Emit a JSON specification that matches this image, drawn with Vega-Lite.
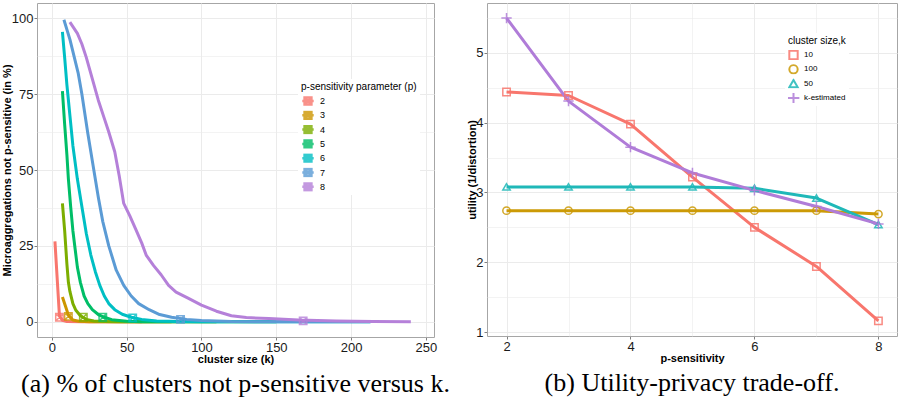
{
  "$schema": "https://vega.github.io/schema/vega-lite/v6.json",
  "padding": {"left": 0, "top": 2, "right": 1, "bottom": 0},
  "background": "white",
  "resolve": {"scale": {"color": "independent", "shape": "independent"}, "legend": {"color": "independent", "shape": "independent"}},
  "config": {
    "font": "Liberation Sans",
    "view": {"stroke": "#A6A6A6", "strokeWidth": 1},
    "concat": {"spacing": 15},
    "axis": {
      "domain": false,
      "gridColor": "#EBEBEB",
      "tickColor": "#7F7F7F",
      "tickSize": 3,
      "labelFontSize": 13,
      "labelColor": "#1A1A1A",
      "labelPadding": 1,
      "titleFontSize": 11,
      "titleFontWeight": "bold",
      "titleColor": "#000000",
      "titlePadding": -1
    },
    "legend": {
      "orient": "none",
      "fillColor": "white",
      "padding": 3,
      "titleFontSize": 10,
      "titleFontWeight": "normal",
      "titleColor": "#000000",
      "labelFontSize": 9,
      "labelColor": "#000000",
      "clipHeight": 10,
      "rowPadding": 4.3,
      "titlePadding": 4,
      "labelOffset": 5
    },
    "title": {"font": "Liberation Serif", "fontSize": 26, "fontWeight": "normal", "color": "#000000", "offset": 7}
  },
  "datasets": {
    "curves": [
      {"p": "2", "k": 2, "v": 26.5}, {"p": "2", "k": 5, "v": 2}, {"p": "2", "k": 7, "v": 0.5}, {"p": "2", "k": 10, "v": 0.1}, {"p": "2", "k": 20, "v": 0}, {"p": "2", "k": 60, "v": 0},
      {"p": "3", "k": 7, "v": 8.2}, {"p": "3", "k": 9, "v": 5.2}, {"p": "3", "k": 11, "v": 2.2}, {"p": "3", "k": 14, "v": 0.6}, {"p": "3", "k": 18, "v": 0.2}, {"p": "3", "k": 25, "v": 0}, {"p": "3", "k": 80, "v": 0},
      {"p": "4", "k": 7, "v": 39}, {"p": "4", "k": 8.5, "v": 30}, {"p": "4", "k": 10, "v": 19}, {"p": "4", "k": 11, "v": 13}, {"p": "4", "k": 12, "v": 10}, {"p": "4", "k": 14, "v": 6}, {"p": "4", "k": 16, "v": 3.8}, {"p": "4", "k": 19, "v": 2}, {"p": "4", "k": 23, "v": 0.8}, {"p": "4", "k": 28, "v": 0.3}, {"p": "4", "k": 35, "v": 0.1}, {"p": "4", "k": 45, "v": 0}, {"p": "4", "k": 110, "v": 0},
      {"p": "5", "k": 7, "v": 76}, {"p": "5", "k": 8.5, "v": 65}, {"p": "5", "k": 10, "v": 55}, {"p": "5", "k": 11, "v": 47}, {"p": "5", "k": 12.5, "v": 38}, {"p": "5", "k": 14, "v": 30}, {"p": "5", "k": 15.5, "v": 24}, {"p": "5", "k": 17, "v": 18}, {"p": "5", "k": 19, "v": 13}, {"p": "5", "k": 21.5, "v": 8.5}, {"p": "5", "k": 24, "v": 6}, {"p": "5", "k": 27, "v": 4}, {"p": "5", "k": 31, "v": 2.4}, {"p": "5", "k": 35, "v": 1.5}, {"p": "5", "k": 40, "v": 0.7}, {"p": "5", "k": 50, "v": 0.2}, {"p": "5", "k": 60, "v": 0.05}, {"p": "5", "k": 70, "v": 0}, {"p": "5", "k": 150, "v": 0},
      {"p": "6", "k": 7, "v": 95.5}, {"p": "6", "k": 8.5, "v": 87}, {"p": "6", "k": 10, "v": 78}, {"p": "6", "k": 12, "v": 68}, {"p": "6", "k": 14, "v": 58}, {"p": "6", "k": 17, "v": 47}, {"p": "6", "k": 20, "v": 38}, {"p": "6", "k": 23, "v": 29}, {"p": "6", "k": 26, "v": 22}, {"p": "6", "k": 29, "v": 16.5}, {"p": "6", "k": 32, "v": 12}, {"p": "6", "k": 35, "v": 8.5}, {"p": "6", "k": 38, "v": 6}, {"p": "6", "k": 42, "v": 4}, {"p": "6", "k": 47, "v": 2.5}, {"p": "6", "k": 53, "v": 1.5}, {"p": "6", "k": 60, "v": 0.8}, {"p": "6", "k": 70, "v": 0.3}, {"p": "6", "k": 85, "v": 0.1}, {"p": "6", "k": 100, "v": 0}, {"p": "6", "k": 213, "v": 0},
      {"p": "7", "k": 8, "v": 99.5}, {"p": "7", "k": 12, "v": 93}, {"p": "7", "k": 15, "v": 87}, {"p": "7", "k": 17.5, "v": 82}, {"p": "7", "k": 20, "v": 75}, {"p": "7", "k": 24, "v": 62}, {"p": "7", "k": 28, "v": 50}, {"p": "7", "k": 31, "v": 41}, {"p": "7", "k": 34, "v": 33}, {"p": "7", "k": 38, "v": 25}, {"p": "7", "k": 43, "v": 17}, {"p": "7", "k": 48, "v": 12}, {"p": "7", "k": 53, "v": 8.5}, {"p": "7", "k": 58, "v": 6}, {"p": "7", "k": 65, "v": 4}, {"p": "7", "k": 72, "v": 2.4}, {"p": "7", "k": 80, "v": 1.5}, {"p": "7", "k": 90, "v": 0.8}, {"p": "7", "k": 100, "v": 0.4}, {"p": "7", "k": 120, "v": 0.1}, {"p": "7", "k": 150, "v": 0}, {"p": "7", "k": 213, "v": 0},
      {"p": "8", "k": 12, "v": 98.7}, {"p": "8", "k": 17, "v": 95}, {"p": "8", "k": 20, "v": 91.5}, {"p": "8", "k": 23, "v": 87}, {"p": "8", "k": 27, "v": 80}, {"p": "8", "k": 31, "v": 73}, {"p": "8", "k": 35, "v": 67}, {"p": "8", "k": 38, "v": 62.5}, {"p": "8", "k": 42, "v": 56}, {"p": "8", "k": 45, "v": 48}, {"p": "8", "k": 48, "v": 39}, {"p": "8", "k": 52, "v": 35}, {"p": "8", "k": 56, "v": 30.5}, {"p": "8", "k": 60, "v": 26}, {"p": "8", "k": 63, "v": 22}, {"p": "8", "k": 68, "v": 18.5}, {"p": "8", "k": 73, "v": 15.5}, {"p": "8", "k": 78, "v": 12}, {"p": "8", "k": 83, "v": 9.8}, {"p": "8", "k": 91, "v": 7.8}, {"p": "8", "k": 100, "v": 5.5}, {"p": "8", "k": 110, "v": 3.5}, {"p": "8", "k": 120, "v": 2}, {"p": "8", "k": 130, "v": 1.4}, {"p": "8", "k": 145, "v": 1.1}, {"p": "8", "k": 165, "v": 0.6}, {"p": "8", "k": 190, "v": 0.3}, {"p": "8", "k": 215, "v": 0.1}, {"p": "8", "k": 240, "v": 0}
    ],
    "markers": [
      {"p": "2", "k": 5, "v": 1.5},
      {"p": "3", "k": 11, "v": 1.8},
      {"p": "4", "k": 21, "v": 1.5},
      {"p": "5", "k": 34, "v": 1.5},
      {"p": "6", "k": 54, "v": 1.3},
      {"p": "7", "k": 86, "v": 0.8},
      {"p": "8", "k": 168, "v": 0.3}
    ],
    "utility": [
      {"k": "10", "p": 2, "u": 4.44}, {"k": "10", "p": 3, "u": 4.39}, {"k": "10", "p": 4, "u": 3.98}, {"k": "10", "p": 5, "u": 3.22}, {"k": "10", "p": 6, "u": 2.5}, {"k": "10", "p": 7, "u": 1.94}, {"k": "10", "p": 8, "u": 1.16},
      {"k": "100", "p": 2, "u": 2.74}, {"k": "100", "p": 3, "u": 2.74}, {"k": "100", "p": 4, "u": 2.74}, {"k": "100", "p": 5, "u": 2.74}, {"k": "100", "p": 6, "u": 2.74}, {"k": "100", "p": 7, "u": 2.74}, {"k": "100", "p": 8, "u": 2.69},
      {"k": "50", "p": 2, "u": 3.08}, {"k": "50", "p": 3, "u": 3.08}, {"k": "50", "p": 4, "u": 3.08}, {"k": "50", "p": 5, "u": 3.08}, {"k": "50", "p": 6, "u": 3.06}, {"k": "50", "p": 7, "u": 2.92}, {"k": "50", "p": 8, "u": 2.54},
      {"k": "k-estimated", "p": 2, "u": 5.5}, {"k": "k-estimated", "p": 3, "u": 4.31}, {"k": "k-estimated", "p": 4, "u": 3.65}, {"k": "k-estimated", "p": 5, "u": 3.28}, {"k": "k-estimated", "p": 6, "u": 3.03}, {"k": "k-estimated", "p": 7, "u": 2.8}, {"k": "k-estimated", "p": 8, "u": 2.55}
    ]
  },
  "hconcat": [
    {
      "width": 397,
      "height": 334,
      "title": {"text": "(a) % of clusters not p-sensitive versus k.", "orient": "bottom", "anchor": "middle"},
      "layer": [
        {
          "data": {"name": "curves"},
          "mark": {"type": "line", "strokeWidth": 3, "strokeJoin": "round"},
          "encoding": {
            "x": {
              "field": "k", "type": "quantitative",
              "scale": {"domain": [-10, 255.5], "nice": false, "zero": false},
              "axis": {
                "title": "cluster size (k)",
                "values": [0, 25, 50, 75, 100, 125, 150, 175, 200, 225, 250],
                "labelExpr": "datum.value % 50 === 0 ? datum.label : ''",
                "gridWidth": {"condition": {"test": "datum.value % 50 !== 0", "value": 0.6}, "value": 1},
                "tickOpacity": {"condition": {"test": "datum.value % 50 !== 0", "value": 0}, "value": 1}
              }
            },
            "y": {
              "field": "v", "type": "quantitative",
              "scale": {"domain": [-5, 105], "nice": false, "zero": false},
              "axis": {
                "title": "Microaggregations not p-sensitive (in %)",
                "values": [0, 12.5, 25, 37.5, 50, 62.5, 75, 87.5, 100],
                "labelExpr": "datum.value % 25 === 0 ? datum.label : ''",
                "gridWidth": {"condition": {"test": "datum.value % 25 !== 0", "value": 0.6}, "value": 1},
                "tickOpacity": {"condition": {"test": "datum.value % 25 !== 0", "value": 0}, "value": 1}
              }
            },
            "color": {
              "field": "p", "type": "nominal",
              "scale": {"domain": ["2", "3", "4", "5", "6", "7", "8"], "range": ["#F8766D", "#CD9600", "#7CAE00", "#00BE67", "#00BFC4", "#5B9BD5", "#B580D9"]},
              "legend": {
                "title": "p-sensitivity parameter (p)",
                "legendX": 261, "legendY": 76,
                "symbolType": "M-1,0H1M-0.6,-0.6H0.6V0.6H-0.6ZM-0.6,-0.6L0.6,0.6M0.6,-0.6L-0.6,0.6",
                "symbolSize": 130, "symbolStrokeWidth": 2.5
              }
            }
          }
        },
        {
          "data": {"name": "markers"},
          "mark": {"type": "point", "shape": "M-1,-1H1V1H-1ZM-1,-1L1,1M1,-1L-1,1", "filled": false, "size": 55, "strokeWidth": 1.5, "opacity": 0.8},
          "encoding": {
            "x": {"field": "k", "type": "quantitative"},
            "y": {"field": "v", "type": "quantitative"},
            "color": {"field": "p", "type": "nominal"}
          }
        }
      ]
    },
    {
      "width": 410,
      "height": 333,
      "title": {"text": "(b) Utility-privacy trade-off.", "orient": "bottom", "anchor": "middle"},
      "data": {"name": "utility"},
      "encoding": {
        "x": {
          "field": "p", "type": "quantitative",
          "scale": {"domain": [1.685, 8.3], "nice": false, "zero": false},
          "axis": {
            "title": "p-sensitivity",
            "values": [2, 3, 4, 5, 6, 7, 8],
            "labelExpr": "datum.value % 2 === 0 ? datum.label : ''",
            "gridWidth": {"condition": {"test": "datum.value % 2 !== 0", "value": 0.6}, "value": 1},
            "tickOpacity": {"condition": {"test": "datum.value % 2 !== 0", "value": 0}, "value": 1}
          }
        },
        "y": {
          "field": "u", "type": "quantitative",
          "scale": {"domain": [0.943, 5.716], "nice": false, "zero": false},
          "axis": {
            "title": "utility (1/distortion)",
            "titlePadding": -2,
            "format": ".0f",
            "values": [1, 1.5, 2, 2.5, 3, 3.5, 4, 4.5, 5, 5.5],
            "labelExpr": "datum.value % 1 === 0 ? datum.label : ''",
            "gridWidth": {"condition": {"test": "datum.value % 1 !== 0", "value": 0.6}, "value": 1},
            "tickOpacity": {"condition": {"test": "datum.value % 1 !== 0", "value": 0}, "value": 1}
          }
        },
        "color": {
          "field": "k", "type": "nominal",
          "scale": {"domain": ["10", "100", "50", "k-estimated"], "range": ["#F8766D", "#CC9A06", "#1FB8B8", "#B07CD8"]},
          "legend": {"title": "cluster size,k", "legendX": 298, "legendY": 30, "labelFontSize": 8, "symbolStrokeWidth": 2, "symbolSize": 70}
        }
      },
      "layer": [
        {"mark": {"type": "line", "strokeWidth": 3, "strokeJoin": "round"}},
        {
          "mark": {"type": "point", "filled": false, "size": 55, "strokeWidth": 1.5, "opacity": 0.85},
          "encoding": {
            "shape": {
              "field": "k", "type": "nominal",
              "scale": {"domain": ["10", "100", "50", "k-estimated"], "range": ["square", "circle", "triangle-up", "M-1.4,0H1.4M0,-1.4V1.4"]},
              "legend": {"title": "cluster size,k", "legendX": 298, "legendY": 30, "labelFontSize": 8, "symbolStrokeWidth": 2, "symbolSize": 70}
            }
          }
        }
      ]
    }
  ]
}
